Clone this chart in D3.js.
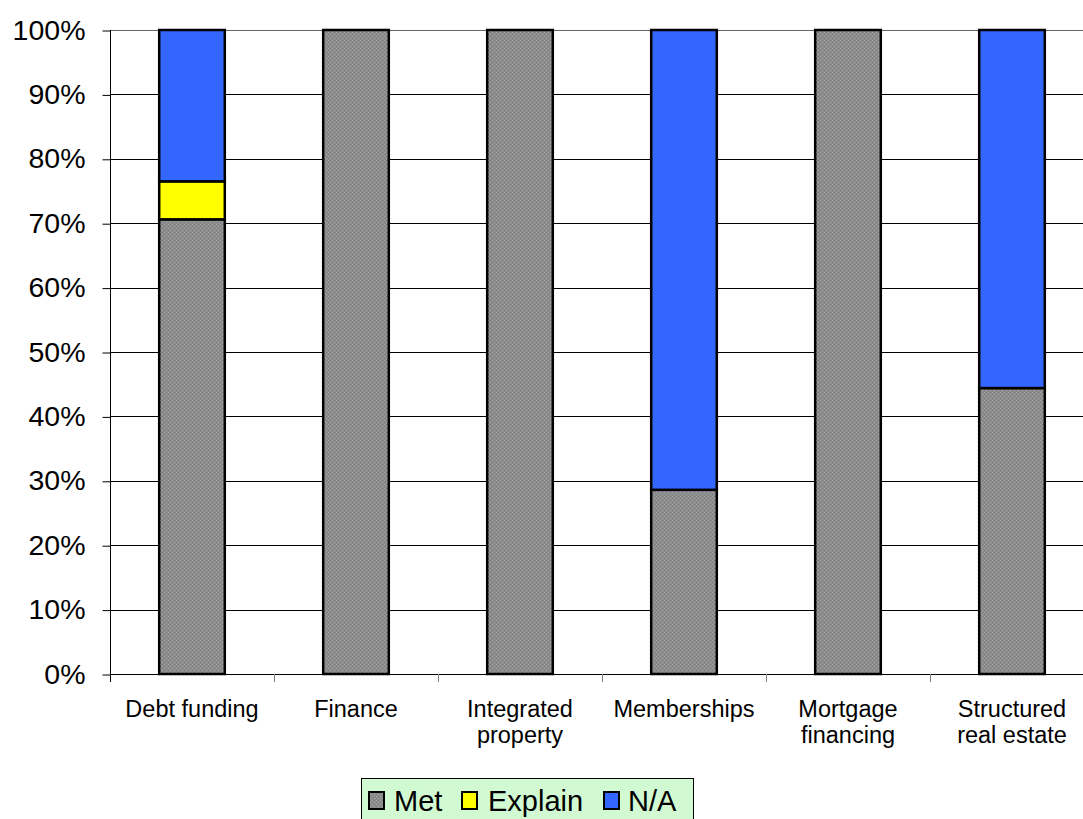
<!DOCTYPE html>
<html>
<head>
<meta charset="utf-8">
<script src="https://cdn.jsdelivr.net/npm/d3@7"></script>
<style>
  html, body { margin: 0; padding: 0; background: #fff; }
  svg { display: block; font-family: "Liberation Sans", Arial, sans-serif; }
</style>
</head>
<body>
<svg id="chart" width="1083" height="819"></svg>
<script>
// Share of requirements by status, per business area
const categories = ["Debt funding", "Finance", "Integrated property", "Memberships", "Mortgage financing", "Structured real estate"];
const categoryLines = [["Debt funding"], ["Finance"], ["Integrated", "property"], ["Memberships"], ["Mortgage", "financing"], ["Structured", "real estate"]];
const seriesNames = ["Met", "Explain", "N/A"];
const met     = [70.6, 100, 100, 28.6, 100, 44.4];
const explain = [5.9,    0,   0,    0,   0,    0];
const na      = [23.5,   0,   0, 71.4,   0, 55.6];
const yTicks = [0, 10, 20, 30, 40, 50, 60, 70, 80, 90, 100];

const svg = d3.select("#chart");
const plotLeft = 110, plotRight = 1094, plotTop = 30, plotBottom = 674;

// Stippled gray fill for the "Met" series
const defs = svg.append("defs");
const pat = defs.append("pattern")
  .attr("id", "stipple").attr("patternUnits", "userSpaceOnUse")
  .attr("width", 4).attr("height", 4);
pat.append("rect").attr("width", 4).attr("height", 4).attr("fill", "#8c8c8c");
[[0, 0], [2, 2]].forEach(([px, py]) =>
  pat.append("rect").attr("x", px).attr("y", py).attr("width", 1).attr("height", 1).attr("fill", "#a4a4a4"));
[[2, 0], [0, 2]].forEach(([px, py]) =>
  pat.append("rect").attr("x", px).attr("y", py).attr("width", 1).attr("height", 1).attr("fill", "#7e7e7e"));

const colors = { "Met": "url(#stipple)", "Explain": "#FFFF00", "N/A": "#3366FF" };

const x = d3.scaleBand().domain(categories).range([plotLeft, plotRight]).paddingInner(0.6).paddingOuter(0.3);
const y = d3.scaleLinear().domain([0, 100]).range([plotBottom, plotTop]);

// Gridlines
svg.append("g").selectAll("line").data(yTicks.filter(t => t > 0)).join("line")
  .attr("x1", plotLeft).attr("x2", plotRight)
  .attr("y1", d => Math.round(y(d)) + 0.5).attr("y2", d => Math.round(y(d)) + 0.5)
  .attr("stroke", d => d === 100 ? "#666" : "#000").attr("stroke-width", 1);

// Y axis
const yAxis = d3.axisLeft(y).tickValues(yTicks).tickFormat(d => d + "%").tickSize(8).tickPadding(17);
const gy = svg.append("g").attr("transform", `translate(${plotLeft + 0.5},0)`).call(yAxis);
gy.select(".domain").remove();
gy.selectAll(".tick line").attr("stroke", "#000").attr("transform", "translate(0,0.5)");
gy.selectAll(".tick text").attr("font-size", 28.5).attr("fill", "#000")
  .attr("font-family", "'Liberation Sans', Arial, sans-serif");
svg.append("line").attr("x1", plotLeft + 0.5).attr("x2", plotLeft + 0.5)
  .attr("y1", plotTop).attr("y2", plotBottom + 8).attr("stroke", "#000");

// Stacked bars
const rows = categories.map((c, i) => ({ cat: c, "Met": met[i], "Explain": explain[i], "N/A": na[i] }));
const stack = d3.stack().keys(seriesNames)(rows);
svg.append("g").selectAll("g").data(stack).join("g")
  .attr("fill", d => colors[d.key])
  .selectAll("rect").data(d => d.filter(p => p[1] - p[0] > 0)).join("rect")
  .attr("x", d => x(d.data.cat))
  .attr("width", x.bandwidth())
  .attr("y", d => y(d[1]))
  .attr("height", d => y(d[0]) - y(d[1]))
  .attr("stroke", "#000").attr("stroke-width", 2.5);

// X axis baseline and category dividers
svg.append("line").attr("x1", plotLeft).attr("x2", plotRight)
  .attr("y1", plotBottom + 0.5).attr("y2", plotBottom + 0.5).attr("stroke", "#000");
const dividers = d3.range(1, categories.length + 1).map(i => plotLeft + i * (plotRight - plotLeft) / categories.length);
svg.append("g").selectAll("line").data(dividers).join("line")
  .attr("x1", d => Math.round(d) + 0.5).attr("x2", d => Math.round(d) + 0.5)
  .attr("y1", plotBottom).attr("y2", plotBottom + 8).attr("stroke", "#808080");

// Category labels
const catCenter = i => plotLeft + (i + 0.5) * (plotRight - plotLeft) / categories.length;
const labels = svg.append("g").attr("font-size", 23.5).attr("fill", "#000").attr("text-anchor", "middle");
categoryLines.forEach((lines, i) => {
  const t = labels.append("text").attr("x", catCenter(i)).attr("y", 717);
  lines.forEach((ln, j) => t.append("tspan").attr("x", catCenter(i)).attr("y", 717 + j * 26).text(ln));
});

// Legend
const lg = svg.append("g");
lg.append("rect").attr("x", 361.5).attr("y", 778.5).attr("width", 332).attr("height", 45)
  .attr("fill", "#D2FAD2").attr("stroke", "#000");
const legendItems = [
  { name: "Met", sx: 369, tx: 394 },
  { name: "Explain", sx: 462, tx: 488 },
  { name: "N/A", sx: 604, tx: 628 }
];
legendItems.forEach(it => {
  lg.append("rect").attr("x", it.sx).attr("y", 792).attr("width", 15).attr("height", 17)
    .attr("fill", colors[it.name]).attr("stroke", "#000").attr("stroke-width", 2);
  lg.append("text").attr("x", it.tx).attr("y", 811).attr("font-size", 29).attr("fill", "#000").text(it.name);
});
</script>
</body>
</html>
